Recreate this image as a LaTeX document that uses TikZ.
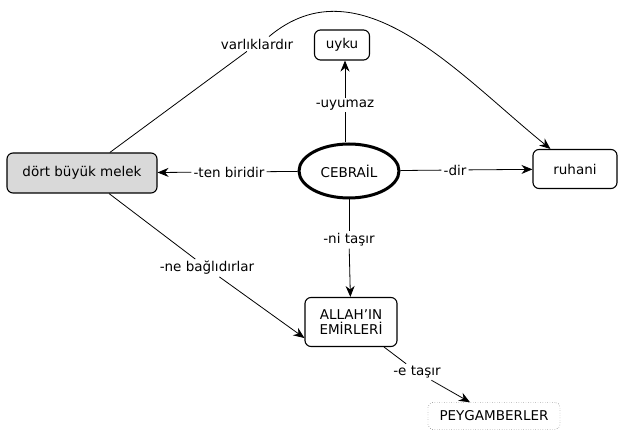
\documentclass[tikz,border=0pt]{standalone}
\usepackage{fontspec}
\setmainfont{DejaVu Sans}
\usetikzlibrary{positioning,shapes.geometric,arrows.meta}

\begin{document}
\begin{tikzpicture}[x=1pt,y=-1pt,font=\fontsize{13.5}{15}\selectfont,
    concept/.style={draw,rounded corners=6pt,inner sep=4pt,line width=1.1pt},
    linkword/.style={inner sep=2pt,fill=white},
    link/.style={line width=0.8pt},
    linkarrow/.style={line width=0.8pt,-{Stealth[length=11pt,width=9pt]}}]
		\useasboundingbox (0,0) rectangle (619,438);
		% concepts
		\node [ellipse,draw,line width=3pt,minimum width=100pt,minimum height=54pt] (cebrail) at (349,171) {CEBRAİL};
		\node [concept,fill=black!15,minimum width=150pt,minimum height=40pt] (melek) at (82,173) {dört büyük melek};
		\node [concept,minimum width=55pt,minimum height=30pt] (uyku) at (342,45) {uyku};
		\node [concept,minimum width=84pt,minimum height=39pt] (ruhani) at (575,169) {ruhani};
		\node [concept,align=center,minimum width=92pt,minimum height=49pt] (emir) at (351,322) {ALLAH\symbol{39}IN\\EMİRLERİ};
		\node [draw,dotted,rounded corners=5pt,minimum width=132pt,minimum height=27pt] (peygamber) at (494,416) {PEYGAMBERLER};
		% linking words
		\node [linkword] (uyumaz) at (345,105) {-uyumaz};
		\node [linkword] (biridir) at (229,172) {-ten biridir};
		\node [linkword] (dir) at (455,170) {-dir};
		\node [linkword] (tasir) at (349,240) {-ni taşır};
		\node [linkword] (bagli) at (207,268) {-ne bağlıdırlar};
		\node [linkword] (etasir) at (417,372) {-e taşır};
		\node [linkword] (varlik) at (257,44) {varlıklardır};
		% connections
		\draw [link] (cebrail.north -| uyumaz) -- (uyumaz);
		\draw [linkarrow] (uyumaz) -- (uyku.south -| uyumaz);
		\draw [link] (cebrail) -- (biridir);
		\draw [linkarrow] (biridir) -- (melek);
		\draw [link] (cebrail) -- (dir);
		\draw [linkarrow] (dir) -- (ruhani);
		\draw [link] (cebrail) -- (tasir);
		\draw [linkarrow] (tasir) -- (emir);
		\draw [link] (melek) -- (bagli);
		\draw [linkarrow] (bagli) -- ([yshift=9pt]emir.south west);
		\draw [link] (emir) -- (etasir);
		\draw [linkarrow] (etasir) -- (peygamber);
		\draw [link] (melek) -- (varlik);
		\draw [linkarrow] ([xshift=12pt]varlik.north) to [out=40,in=141] ([xshift=18pt]ruhani.north west);
	\end{tikzpicture}
\end{document}
